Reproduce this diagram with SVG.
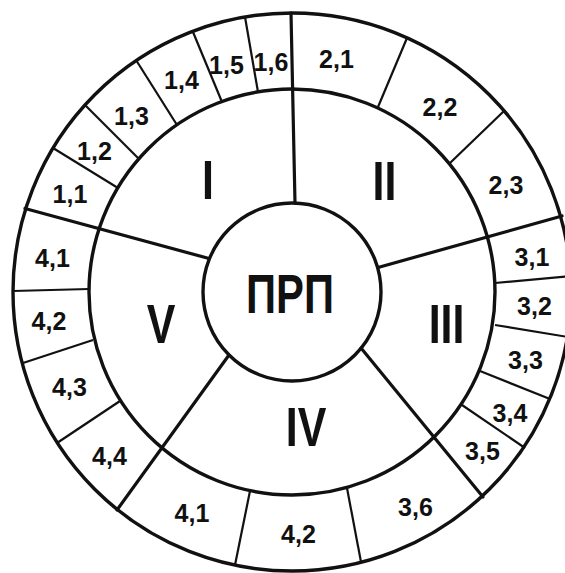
<svg xmlns="http://www.w3.org/2000/svg" width="565" height="573" viewBox="0 0 565 573">
<style>
.ring{fill:none;stroke:#111;stroke-width:3.4}
.major{stroke:#111;stroke-width:3.2;stroke-linecap:round}
.minor{stroke:#111;stroke-width:2.2}
.cell{font-family:"Liberation Sans",Arial,sans-serif;font-weight:bold;font-size:25px;fill:#111;text-anchor:middle}
.big{font-family:"Liberation Sans",Arial,sans-serif;font-weight:bold;font-size:55px;fill:#111;text-anchor:middle}
</style>
<rect width="565" height="573" fill="#fff"/>
<g id="rings">
<circle class="ring" cx="292" cy="292" r="279"/>
<circle class="ring" cx="292" cy="292" r="203"/>
</g>
<g id="connectors">
<line class="major" x1="295" y1="203" x2="291" y2="13"/>
<line class="major" x1="378" y1="267.5" x2="562" y2="216"/>
<line class="major" x1="361" y1="348" x2="483" y2="497"/>
<line class="major" x1="229" y1="355" x2="117" y2="510"/>
<line class="major" x1="209" y1="258.5" x2="25" y2="208.5"/>
<line class="minor" x1="118" y1="188" x2="53" y2="148"/>
<line class="minor" x1="138" y1="158" x2="85" y2="105"/>
<line class="minor" x1="177" y1="125" x2="136" y2="60"/>
<line class="minor" x1="222" y1="102" x2="193" y2="32"/>
<line class="minor" x1="258" y1="92" x2="245" y2="17"/>
<line class="minor" x1="378" y1="107" x2="407" y2="38"/>
<line class="minor" x1="450" y1="163" x2="504" y2="111"/>
<line class="minor" x1="495" y1="283" x2="571" y2="276"/>
<line class="minor" x1="495" y1="325" x2="568" y2="337"/>
<line class="minor" x1="480" y1="371" x2="550" y2="399"/>
<line class="minor" x1="462" y1="405" x2="525" y2="448"/>
<line class="minor" x1="347" y1="488" x2="361" y2="562"/>
<line class="minor" x1="250" y1="491" x2="235" y2="565"/>
<line class="minor" x1="13" y1="291" x2="89" y2="289"/>
<line class="minor" x1="23" y1="363" x2="93" y2="340"/>
<line class="minor" x1="57" y1="443" x2="120" y2="401"/>
</g>
<g id="center">
<circle class="ring" cx="292" cy="292" r="89" fill="#fff"/>
<text class="big" transform="translate(290,313) scale(0.76,1)">ПРП</text>
</g>
<g id="sector-I">
<text class="big" transform="translate(208,199) scale(0.78,1)">I</text>
<text class="cell" x="70" y="203">1,1</text>
<text class="cell" x="94.5" y="159.5">1,2</text>
<text class="cell" x="131.5" y="124.5">1,3</text>
<text class="cell" x="181.5" y="89">1,4</text>
<text class="cell" x="226.5" y="74">1,5</text>
<text class="cell" x="271" y="70.5">1,6</text>
</g>
<g id="sector-II">
<text class="big" transform="translate(384.5,200) scale(0.78,1)">II</text>
<text class="cell" x="336.5" y="68">2,1</text>
<text class="cell" x="440" y="116">2,2</text>
<text class="cell" x="506" y="194">2,3</text>
</g>
<g id="sector-III">
<text class="big" transform="translate(446.5,343) scale(0.78,1)">III</text>
<text class="cell" x="532" y="266">3,1</text>
<text class="cell" x="534.5" y="315">3,2</text>
<text class="cell" x="525.5" y="369">3,3</text>
<text class="cell" x="510" y="422">3,4</text>
<text class="cell" x="482.5" y="460">3,5</text>
<text class="cell" x="415.5" y="516">3,6</text>
</g>
<g id="sector-IV">
<text class="big" transform="translate(306,446) scale(0.78,1)">IV</text>
<text class="cell" x="192" y="522">4,1</text>
<text class="cell" x="298.5" y="543">4,2</text>
</g>
<g id="sector-V">
<text class="big" transform="translate(161,343) scale(0.78,1)">V</text>
<text class="cell" x="52.5" y="267">4,1</text>
<text class="cell" x="49" y="330">4,2</text>
<text class="cell" x="69.5" y="396">4,3</text>
<text class="cell" x="109.5" y="465">4,4</text>
</g>
</svg>
